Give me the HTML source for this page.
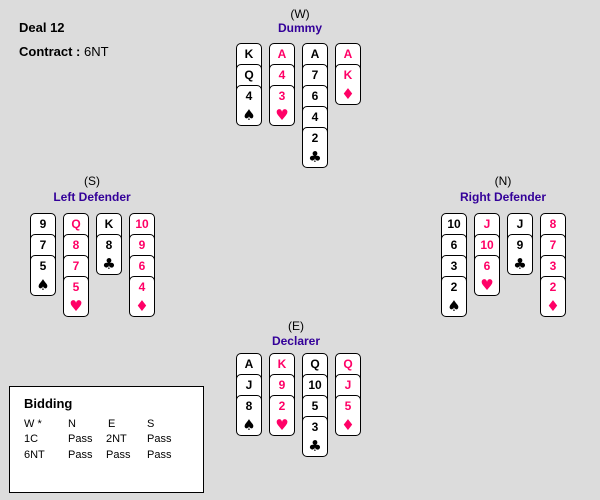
<!DOCTYPE html>
<html><head><meta charset="utf-8"><style>
body{margin:0;width:600px;height:500px;background:#dcdcdc;position:relative;overflow:hidden;font-family:"Liberation Sans","DejaVu Sans",sans-serif}
.c{position:absolute;width:24px;height:29px;border:1px solid #000;border-radius:5px;background:#fff;text-align:center;font-weight:bold;font-size:12px;line-height:14px;padding-top:3px;box-sizing:content-box}
.l{height:36px}
.r{color:#ff0066}
.s{display:block;font-size:15px;line-height:16px;margin-top:4px;font-family:"DejaVu Sans",sans-serif}
.t{position:absolute;font-size:12px;text-align:center;width:160px}
.n{position:absolute;font-size:12px;font-weight:bold;color:#330099;text-align:center;width:160px}
</style></head><body>
<div style="position:absolute;left:19px;top:20px;font-size:13px;font-weight:bold">Deal 12</div>
<div style="position:absolute;left:19px;top:44px;font-size:13px;font-weight:bold">Contract : <span style="font-weight:normal">6NT</span></div>

<div class="t" style="left:220px;top:7px">(W)</div>
<div class="n" style="left:220px;top:21px">Dummy</div>
<div class="t" style="left:12px;top:174px">(S)</div>
<div class="n" style="left:12px;top:190px">Left Defender</div>
<div class="t" style="left:423px;top:174px">(N)</div>
<div class="n" style="left:423px;top:190px">Right Defender</div>
<div class="t" style="left:216px;top:319px">(E)</div>
<div class="n" style="left:216px;top:334px">Declarer</div>

<!-- Dummy -->
<div class="c" style="left:236px;top:43px">K</div>
<div class="c" style="left:236px;top:64px">Q</div>
<div class="c l" style="left:236px;top:85px">4<span class="s">♠</span></div>
<div class="c r" style="left:269px;top:43px">A</div>
<div class="c r" style="left:269px;top:64px">4</div>
<div class="c l r" style="left:269px;top:85px">3<span class="s">♥</span></div>
<div class="c" style="left:302px;top:43px">A</div>
<div class="c" style="left:302px;top:64px">7</div>
<div class="c" style="left:302px;top:85px">6</div>
<div class="c" style="left:302px;top:106px">4</div>
<div class="c l" style="left:302px;top:127px">2<span class="s">♣</span></div>
<div class="c r" style="left:335px;top:43px">A</div>
<div class="c l r" style="left:335px;top:64px">K<span class="s">♦</span></div>

<!-- Left defender -->
<div class="c" style="left:30px;top:213px">9</div>
<div class="c" style="left:30px;top:234px">7</div>
<div class="c l" style="left:30px;top:255px">5<span class="s">♠</span></div>
<div class="c r" style="left:63px;top:213px">Q</div>
<div class="c r" style="left:63px;top:234px">8</div>
<div class="c r" style="left:63px;top:255px">7</div>
<div class="c l r" style="left:63px;top:276px">5<span class="s">♥</span></div>
<div class="c" style="left:96px;top:213px">K</div>
<div class="c l" style="left:96px;top:234px">8<span class="s">♣</span></div>
<div class="c r" style="left:129px;top:213px">10</div>
<div class="c r" style="left:129px;top:234px">9</div>
<div class="c r" style="left:129px;top:255px">6</div>
<div class="c l r" style="left:129px;top:276px">4<span class="s">♦</span></div>

<!-- Right defender -->
<div class="c" style="left:441px;top:213px">10</div>
<div class="c" style="left:441px;top:234px">6</div>
<div class="c" style="left:441px;top:255px">3</div>
<div class="c l" style="left:441px;top:276px">2<span class="s">♠</span></div>
<div class="c r" style="left:474px;top:213px">J</div>
<div class="c r" style="left:474px;top:234px">10</div>
<div class="c l r" style="left:474px;top:255px">6<span class="s">♥</span></div>
<div class="c" style="left:507px;top:213px">J</div>
<div class="c l" style="left:507px;top:234px">9<span class="s">♣</span></div>
<div class="c r" style="left:540px;top:213px">8</div>
<div class="c r" style="left:540px;top:234px">7</div>
<div class="c r" style="left:540px;top:255px">3</div>
<div class="c l r" style="left:540px;top:276px">2<span class="s">♦</span></div>

<!-- Declarer -->
<div class="c" style="left:236px;top:353px">A</div>
<div class="c" style="left:236px;top:374px">J</div>
<div class="c l" style="left:236px;top:395px">8<span class="s">♠</span></div>
<div class="c r" style="left:269px;top:353px">K</div>
<div class="c r" style="left:269px;top:374px">9</div>
<div class="c l r" style="left:269px;top:395px">2<span class="s">♥</span></div>
<div class="c" style="left:302px;top:353px">Q</div>
<div class="c" style="left:302px;top:374px">10</div>
<div class="c" style="left:302px;top:395px">5</div>
<div class="c l" style="left:302px;top:416px">3<span class="s">♣</span></div>
<div class="c r" style="left:335px;top:353px">Q</div>
<div class="c r" style="left:335px;top:374px">J</div>
<div class="c l r" style="left:335px;top:395px">5<span class="s">♦</span></div>

<!-- Bidding -->
<div style="position:absolute;left:9px;top:386px;width:193px;height:105px;background:#fff;border:1px solid #000;font-size:11px">
<div style="position:absolute;left:14px;top:9px;font-size:13px;font-weight:bold">Bidding</div>
<div style="position:absolute;left:14px;top:31px">W *</div><div style="position:absolute;left:58px;top:31px">N</div><div style="position:absolute;left:98px;top:31px">E</div><div style="position:absolute;left:137px;top:31px">S</div>
<div style="position:absolute;left:14px;top:46px">1C</div><div style="position:absolute;left:58px;top:46px">Pass</div><div style="position:absolute;left:96px;top:46px">2NT</div><div style="position:absolute;left:137px;top:46px">Pass</div>
<div style="position:absolute;left:14px;top:62px">6NT</div><div style="position:absolute;left:58px;top:62px">Pass</div><div style="position:absolute;left:96px;top:62px">Pass</div><div style="position:absolute;left:137px;top:62px">Pass</div>
</div>
</body></html>
